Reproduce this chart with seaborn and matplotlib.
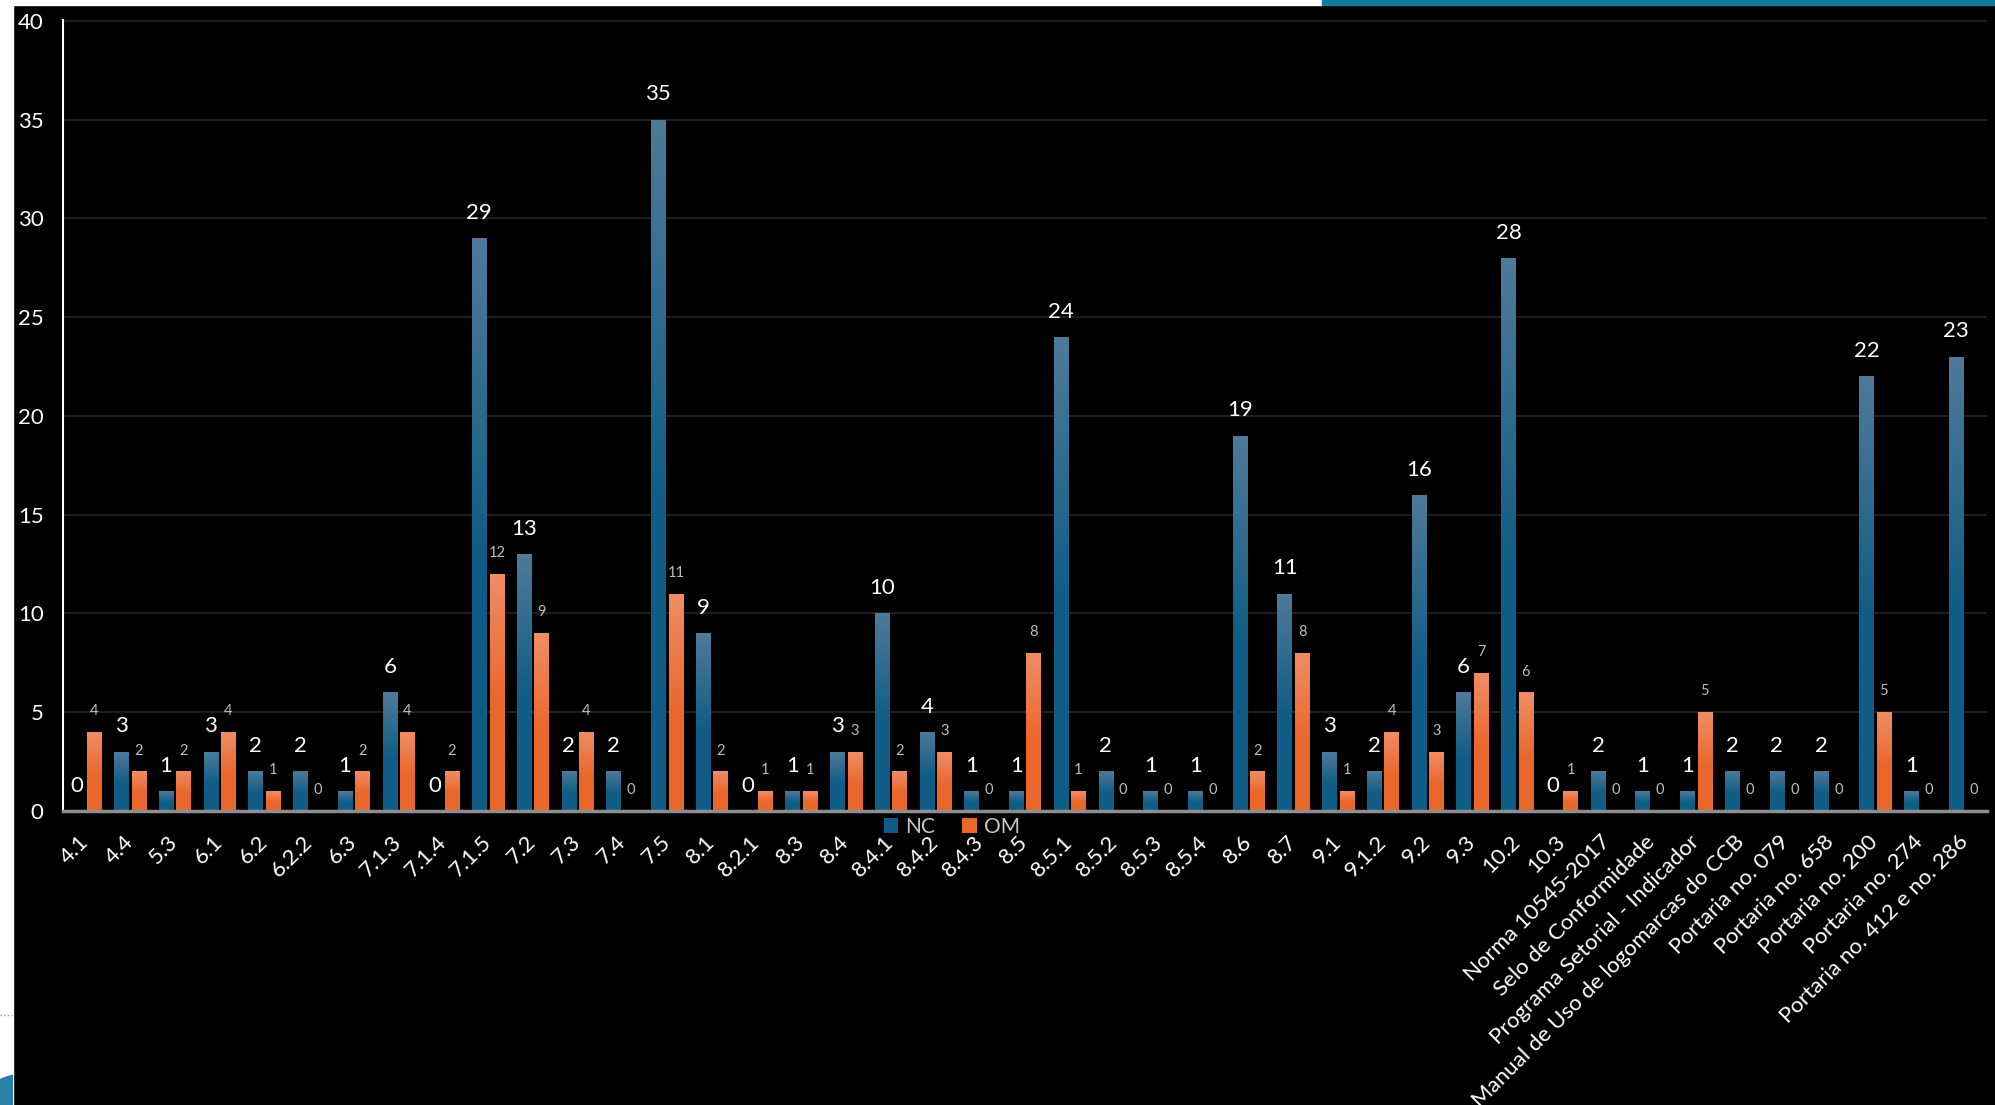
import numpy as np
import pandas as pd

import matplotlib
matplotlib.use("Agg")
import matplotlib.pyplot as plt
import seaborn as sns
from matplotlib.colors import to_rgb
from matplotlib.patches import Rectangle, Circle
from matplotlib.lines import Line2D

# Requisitos auditados e quantidade de NC (não conformidades) / OM (oportunidades de melhoria)
categorias = [
    "4.1", "4.4", "5.3", "6.1", "6.2", "6.2.2", "6.3", "7.1.3", "7.1.4", "7.1.5",
    "7.2", "7.3", "7.4", "7.5", "8.1", "8.2.1", "8.3", "8.4", "8.4.1", "8.4.2",
    "8.4.3", "8.5", "8.5.1", "8.5.2", "8.5.3", "8.5.4", "8.6", "8.7", "9.1", "9.1.2",
    "9.2", "9.3", "10.2", "10.3", "Norma 10545-2017", "Selo de Conformidade",
    "Programa Setorial - Indicador", "Manual de Uso de logomarcas do CCB",
    "Portaria no. 079", "Portaria no. 658", "Portaria no. 200", "Portaria no. 274",
    "Portaria no. 412 e no. 286",
]
nc = [0, 3, 1, 3, 2, 2, 1, 6, 0, 29,
      13, 2, 2, 35, 9, 0, 1, 3, 10, 4,
      1, 1, 24, 2, 1, 1, 19, 11, 3, 2,
      16, 6, 28, 0, 2, 1,
      1, 2,
      2, 2, 22, 1,
      23]
om = [4, 2, 2, 4, 1, 0, 2, 4, 2, 12,
      9, 4, 0, 11, 2, 1, 1, 3, 2, 3,
      0, 8, 1, 0, 0, 0, 2, 8, 1, 4,
      3, 7, 6, 1, 0, 0,
      5, 0,
      0, 0, 5, 0,
      0]
series = ["NC", "OM"]
y_ticks = [0, 5, 10, 15, 20, 25, 30, 35, 40]

COR_NC, COR_NC_TOPO = "#0f5d86", "#4f7a99"
COR_OM, COR_OM_TOPO = "#ea672b", "#f08d66"

sns.set_theme(style="dark")
plt.rcParams["font.family"] = ["Lato", "DejaVu Sans"]

n = len(categorias)
df = pd.DataFrame({
    "categoria": categorias * 2,
    "serie": [series[0]] * n + [series[1]] * n,
    "valor": nc + om,
})

W, H = 1995, 1105
fig = plt.figure(figsize=(W / 100, H / 100), dpi=100, facecolor="black")
ax = fig.add_axes([63 / W, (H - 811) / H, (1987 - 63) / W, (811 - 20) / H])
ax.set_facecolor("black")

sns.barplot(data=df, x="categoria", y="valor", hue="serie",
            palette={"NC": COR_NC, "OM": COR_OM}, saturation=1,
            width=0.78, gap=0.17, errorbar=None, linewidth=0, edgecolor="none", ax=ax)


def gradiente(barra, topo, base):
    """Preenche a barra com degradê vertical (mais claro no topo)."""
    x, y, w, h = barra.get_x(), barra.get_y(), barra.get_width(), barra.get_height()
    if h <= 0:
        return
    t = np.linspace(0, 1, 128)[:, None]
    mistura = np.clip(t / 0.55, 0, 1)[..., None]
    c0, c1 = np.array(to_rgb(topo)), np.array(to_rgb(base))
    img = c0 + (c1 - c0) * mistura
    im = ax.imshow(img, extent=(x, x + w, y, y + h), origin="upper",
                   aspect="auto", interpolation="bilinear", zorder=barra.get_zorder() + 0.1)
    im.set_clip_path(barra)


for cont, topo, base in zip(ax.containers, [COR_NC_TOPO, COR_OM_TOPO], [COR_NC, COR_OM]):
    for barra in cont:
        gradiente(barra, topo, base)

# rótulos de dados
ax.bar_label(ax.containers[0], fmt="%g", padding=11, color="white", fontsize=16)
ax.bar_label(ax.containers[1], fmt="%g", padding=10, color="#bdbdbd", fontsize=10.5)

ax.set_xlim(-0.5, n - 0.5)
ax.set_ylim(0, 40.05)
ax.set_yticks(y_ticks)
ax.set_xlabel("")
ax.set_ylabel("")
ax.yaxis.grid(True, color="#1e1e1e", lw=1.5)
ax.xaxis.grid(False)
ax.set_axisbelow(True)

ax.tick_params(axis="y", colors="white", labelsize=16, length=0, pad=14)
ax.tick_params(axis="x", colors="white", labelsize=16, length=0, pad=20)
plt.setp(ax.get_xticklabels(), rotation=45, ha="right", va="center", rotation_mode="anchor")

for lado in ["top", "right"]:
    ax.spines[lado].set_visible(False)
ax.spines["left"].set_color("white")
ax.spines["left"].set_linewidth(1.5)
ax.spines["bottom"].set_color("#8e8e8e")
ax.spines["bottom"].set_linewidth(2.5)

sns.move_legend(ax, "center", bbox_to_anchor=(0.462, -0.02), ncol=2, title=None,
                frameon=False, fontsize=15, labelcolor="#c8c8c8",
                handlelength=0.7, handleheight=0.7, handletextpad=0.35,
                columnspacing=1.3, borderpad=0.2)

# moldura do slide
fig.add_artist(Rectangle((0, 0), 13 / W, 1, transform=fig.transFigure,
                         color="white", zorder=0))
fig.add_artist(Rectangle((0, 1 - 5 / H), 1322 / W, 5 / H, transform=fig.transFigure,
                         color="white", zorder=0))
fig.add_artist(Rectangle((1322 / W, 1 - 5 / H), 1 - 1322 / W, 5 / H,
                         transform=fig.transFigure, color="#157a9c", zorder=0))
fig.add_artist(Line2D([0, 12 / W], [90 / H, 90 / H], transform=fig.transFigure,
                      color="#9a9a9a", lw=1, ls=":"))
faixa = Rectangle((0, 0), 13 / W, 1, transform=fig.transFigure, visible=False)
fig.add_artist(faixa)
logo = Circle((28 / W, 8 / H), 42 / W, transform=fig.transFigure, color="#2a7fab")
fig.add_artist(logo)
logo.set_clip_path(faixa)

fig.savefig("out.png", dpi=100, facecolor="black")
